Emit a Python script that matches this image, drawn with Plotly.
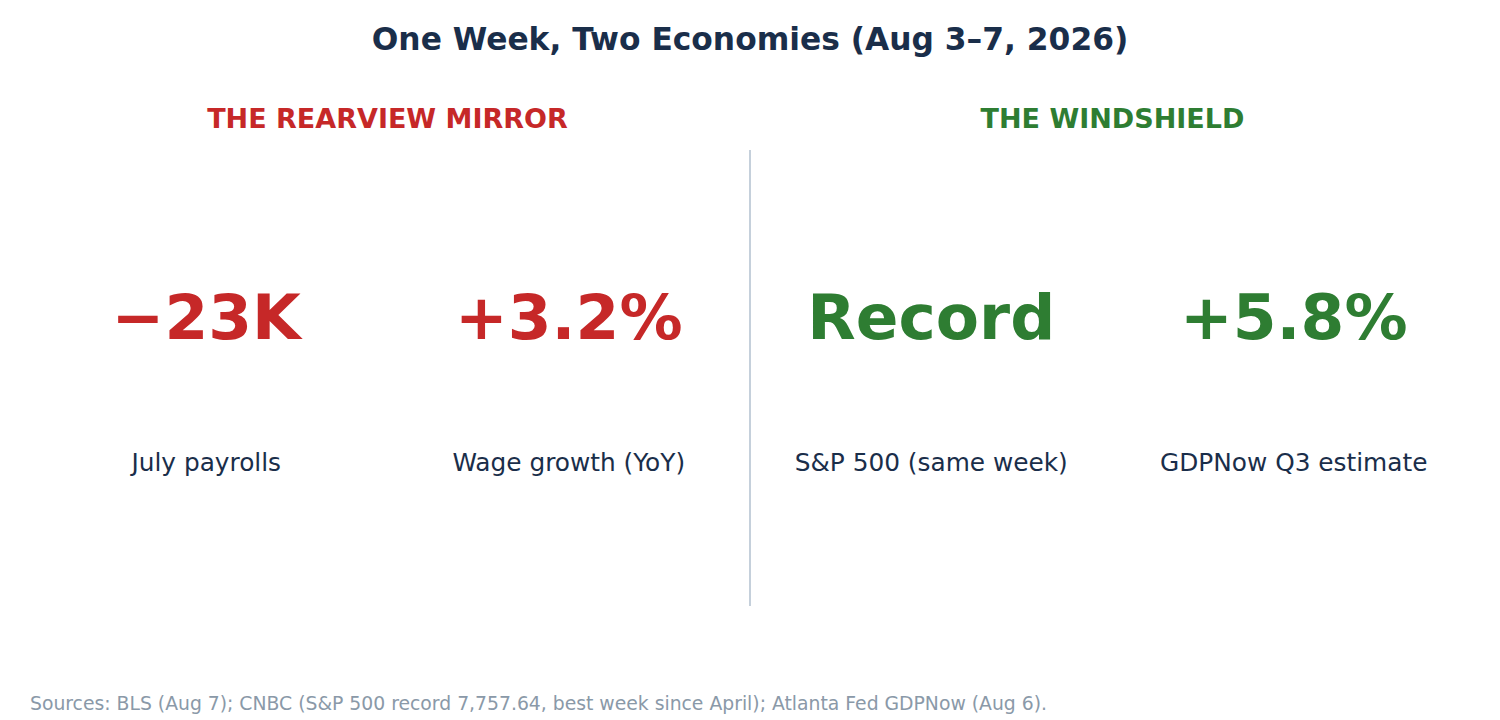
import plotly.graph_objects as go

panels = ["THE REARVIEW MIRROR", "THE WINDSHIELD"]
panel_colors = ["#c62828", "#2e7d32"]

values = ["\u221223K", "+3.2%", "Record", "+5.8%"]
labels = ["July payrolls", "Wage growth (YoY)", "S&P 500 (same week)", "GDPNow Q3 estimate"]
value_colors = ["#c62828", "#c62828", "#2e7d32", "#2e7d32"]

title = "One Week, Two Economies (Aug 3\u20137, 2026)"
source = ("Sources: BLS (Aug 7); CNBC (S&P 500 record 7,757.64, best week since April); "
          "Atlanta Fed GDPNow (Aug 6).")

navy = "#1a2e4a"
font = "DejaVu Sans"
H = 720


def yy(px):
    # pixel row (from the top of the figure) -> y in [0, 1]
    return 1 - px / H


col_x = [i + 0.5 for i in range(len(values))]
panel_x = [1, 3]

fig = go.Figure()

# big numbers
fig.add_trace(go.Scatter(
    x=col_x, y=[yy(315)] * len(values), mode="text", text=values,
    textposition="middle center",
    textfont=dict(family=font, size=63, color=value_colors, weight="bold"),
    hoverinfo="skip", showlegend=False,
))

# captions
fig.add_trace(go.Scatter(
    x=col_x, y=[yy(457)] * len(labels), mode="text", text=labels,
    textposition="middle center",
    textfont=dict(family=font, size=24.8, color=navy),
    hoverinfo="skip", showlegend=False,
))

# panel headers
fig.add_trace(go.Scatter(
    x=panel_x, y=[yy(113)] * len(panels), mode="text", text=panels,
    textposition="middle center",
    textfont=dict(family=font, size=27, color=panel_colors, weight="bold"),
    hoverinfo="skip", showlegend=False,
))

# divider between the two halves
fig.add_shape(type="line", x0=2, x1=2, y0=yy(598), y1=yy(142), xref="x", yref="y",
              line=dict(color="#c5d0db", width=2))

fig.add_annotation(text=source, x=3 / 1450, y=yy(695), xref="paper", yref="paper",
                   xanchor="left", yanchor="middle", showarrow=False,
                   font=dict(family=font, size=18.8, color="#8a99a8"))

fig.update_layout(
    width=1500, height=H,
    margin=dict(l=17, r=33, t=0, b=0),
    paper_bgcolor="white", plot_bgcolor="white",
    title=dict(text=title, x=0.5, xanchor="center", y=yy(31), yanchor="middle",
               xref="paper", font=dict(family=font, size=31.3, color=navy, weight="bold")),
    xaxis=dict(range=[0, 4], visible=False, fixedrange=True),
    yaxis=dict(range=[0, 1], visible=False, fixedrange=True),
)

fig.write_html("out.html")
